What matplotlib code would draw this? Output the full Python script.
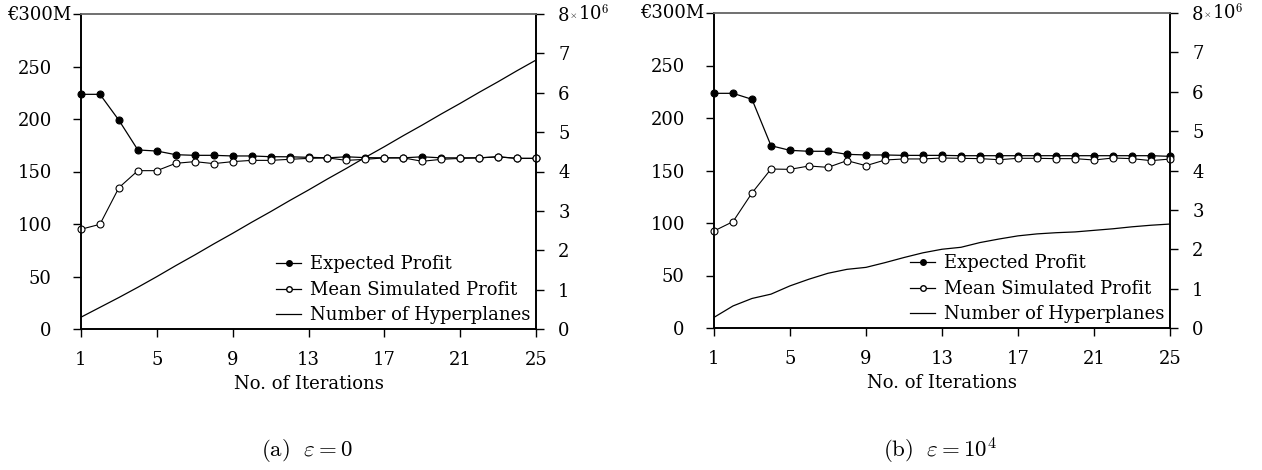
import matplotlib
matplotlib.use("Agg")
import matplotlib.pyplot as plt
from matplotlib.lines import Line2D

plt.rcParams['font.family'] = ['DejaVu Serif']
plt.rcParams['mathtext.fontset'] = 'cm'

iterations = list(range(1, 26))

# Panel (a): epsilon = 0
expected_a = [223.5, 223.5, 198.8, 170.5, 169.5, 166.0, 165.4, 165.4, 164.8, 164.8,
              164.1, 164.0, 163.5, 163.0, 164.0, 163.2, 163.0, 163.0, 164.0, 163.0,
              163.0, 163.0, 164.0, 162.5, 162.5]
simulated_a = [95.0, 99.7, 134.6, 150.8, 150.8, 157.8, 159.4, 157.5, 159.4, 160.6,
               160.6, 161.6, 162.5, 163.0, 160.6, 161.6, 163.0, 163.0, 159.7, 161.6,
               162.5, 163.0, 164.0, 162.5, 162.5]
hyper_a = [0.30, 0.55, 0.80, 1.06, 1.33, 1.61, 1.88, 2.16, 2.43, 2.71,
           2.98, 3.26, 3.53, 3.81, 4.08, 4.36, 4.63, 4.91, 5.18, 5.46,
           5.73, 6.01, 6.28, 6.56, 6.83]

# Panel (b): epsilon = 10^4
expected_b = [223.5, 223.5, 217.8, 173.6, 169.2, 168.3, 168.3, 165.4, 164.8, 164.8,
              164.4, 164.4, 164.4, 164.1, 164.1, 164.1, 164.1, 164.1, 164.1, 164.1,
              164.1, 164.1, 164.1, 164.1, 163.5]
simulated_b = [92.4, 101.3, 128.6, 151.4, 151.1, 154.3, 153.0, 159.4, 154.6, 160.0,
               161.0, 161.0, 161.9, 161.6, 161.3, 160.3, 161.6, 161.6, 161.3, 161.3,
               160.0, 161.9, 161.3, 159.4, 160.9]
hyper_b = [0.27, 0.56, 0.75, 0.86, 1.07, 1.24, 1.39, 1.49, 1.54, 1.66,
           1.79, 1.91, 2.00, 2.05, 2.17, 2.26, 2.34, 2.39, 2.42, 2.44,
           2.48, 2.52, 2.57, 2.61, 2.64]

xticks = [1, 5, 9, 13, 17, 21, 25]
left_ticks = [0, 50, 100, 150, 200, 250, 300]
left_labels = ['0', '50', '100', '150', '200', '250', '']
top_left_label = '€300M'
right_ticks = [0, 1, 2, 3, 4, 5, 6, 7, 8]
right_labels = ['0', '1', '2', '3', '4', '5', '6', '7', '8']
legend_labels = ['Expected Profit', 'Mean Simulated Profit', 'Number of Hyperplanes']
captions = [r'$\mathrm{(a)}\ \ \varepsilon = 0$', r'$\mathrm{(b)}\ \ \varepsilon = 10^4$']

W, H = 1262, 470
fig = plt.figure(figsize=(W / 100, H / 100), dpi=100)

panels = [
    (81, 536, 329, 14, expected_a, simulated_a, hyper_a, captions[0], 307),
    (714, 1170, 328, 13, expected_b, simulated_b, hyper_b, captions[1], 940),
]

FS = 13
for (x0, x1, yb, yt, exp_v, sim_v, hyp_v, cap, capx) in panels:
    ax = fig.add_axes([x0 / W, 1 - yb / H, (x1 - x0) / W, (yb - yt) / H])
    ax2 = ax.twinx()
    ax.set_zorder(ax2.get_zorder() + 1)
    ax.patch.set_visible(False)

    ax2.plot(iterations, hyp_v, color='black', lw=0.9)
    ax.plot(iterations, exp_v, color='black', lw=0.9, marker='o', ms=5,
            mfc='black', mec='black', mew=0.8, clip_on=False)
    ax.plot(iterations, sim_v, color='black', lw=0.8, marker='o', ms=5,
            mfc='white', mec='black', mew=0.8, clip_on=False)

    ax.set_xlim(1, 25)
    ax.set_ylim(0, 300)
    ax2.set_ylim(0, 8)
    ax.set_xticks(xticks)
    ax.set_xticklabels([str(t) for t in xticks], fontsize=FS)
    ax.set_yticks(left_ticks)
    ax.set_yticklabels(left_labels, fontsize=FS)
    ax2.set_yticks(right_ticks)
    ax2.set_yticklabels(right_labels, fontsize=FS)

    ax.tick_params(axis='y', direction='out', length=6, width=1.0, pad=15)
    ax.tick_params(axis='x', direction='out', length=6, width=1.0, pad=9.5)
    ax2.tick_params(axis='y', direction='out', length=6, width=1.0, pad=10)

    for a in (ax, ax2):
        a.spines['top'].set_color('#707070')
        a.spines['top'].set_linewidth(1.2)
        for s in ('left', 'right', 'bottom'):
            a.spines[s].set_color('black')
            a.spines[s].set_linewidth(1.2)

    ax.set_xlabel('No. of Iterations', fontsize=FS, labelpad=5)

    # top-left currency label
    fig.text((x0 - 10) / W, 1 - (yt + 0.5) / H, top_left_label, fontsize=FS,
             ha='right', va='center')

    # multiplier next to the top right tick label
    fig.text((x1 + 33) / W, 1 - (yt + 1.5) / H, r'$\times$', fontsize=7,
             ha='left', va='center')
    fig.text((x1 + 42) / W, 1 - (yt + 0.5) / H, r'10$^{6}$', fontsize=FS,
             ha='left', va='center')

    h3 = Line2D([], [], color='black', lw=0.9)
    hl1 = Line2D([], [], color='black', lw=0.9, marker='o', ms=4, mfc='black', mec='black')
    hl2 = Line2D([], [], color='black', lw=0.9, marker='o', ms=4, mfc='white', mec='black')
    ax.legend([hl1, hl2, h3], legend_labels,
              loc='lower right', bbox_to_anchor=(1.012, -0.02), frameon=False, fontsize=FS,
              handlelength=1.4, handletextpad=0.5, labelspacing=0.42, borderaxespad=0.2)

    fig.text(capx / W, 1 - 451 / H, cap, fontsize=16.5, ha='center', va='center')

fig.savefig('out.png', dpi=100)
